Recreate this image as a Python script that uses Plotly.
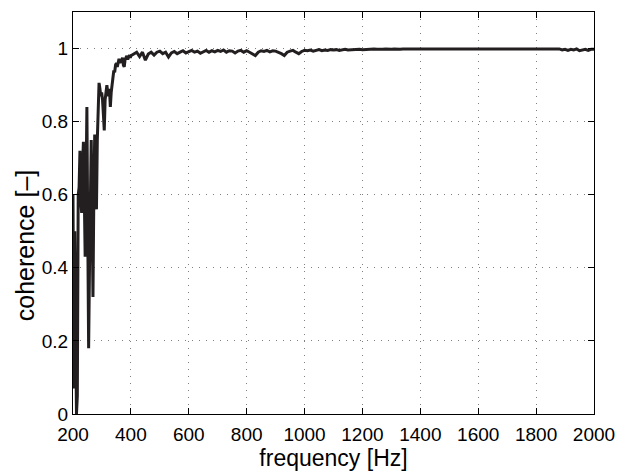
import plotly.graph_objects as go

# Low-frequency region (Hz) and coherence values
freq_low = [200, 203, 206, 209, 212, 215, 218, 221, 224, 227, 230, 233, 236, 239,
            242, 245, 248, 251, 254, 257, 260, 263, 266, 269, 272, 275, 278, 281,
            284, 287, 290, 293, 296, 299, 302, 305, 308, 311, 314, 317, 320, 323,
            326, 329, 332, 335, 338, 341, 344, 347, 350, 353, 356, 359, 362, 365,
            368, 371, 374, 377, 380, 383, 386, 389, 392, 395, 398, 400]
coh_low = [0.60, 0.07, 0.50, 0.30, 0.00, 0.05, 0.60, 0.62, 0.72, 0.58, 0.55, 0.68,
           0.745, 0.60, 0.43, 0.62, 0.84, 0.50, 0.18, 0.40, 0.60, 0.75, 0.55, 0.32,
           0.60, 0.765, 0.70, 0.56, 0.75, 0.88, 0.906, 0.89, 0.87, 0.88, 0.86, 0.82,
           0.776, 0.86, 0.89, 0.90, 0.88, 0.87, 0.89, 0.84, 0.88, 0.91, 0.92, 0.94,
           0.935, 0.955, 0.96, 0.95, 0.965, 0.972, 0.96, 0.968, 0.965, 0.975, 0.955,
           0.95, 0.97, 0.975, 0.98, 0.97, 0.978, 0.982, 0.975, 0.98]

# Higher-frequency region, 10 Hz steps from 410 to 2000 Hz
freq_high = list(range(410, 2001, 10))
coh_high = [
    0.985, 0.99, 0.978, 0.99, 0.968, 0.985, 0.99, 0.982, 0.99, 0.993,
    0.986, 0.99, 0.977, 0.988, 0.992, 0.986, 0.99, 0.994, 0.988, 0.992,
    0.995, 0.99, 0.993, 0.987, 0.992, 0.995, 0.99, 0.994, 0.991, 0.995,
    0.992, 0.996, 0.99, 0.994, 0.993, 0.988, 0.993, 0.995, 0.99, 0.994,
    0.99, 0.985, 0.981, 0.99, 0.994, 0.992, 0.995, 0.991, 0.994, 0.993,
    0.99, 0.986, 0.981, 0.99, 0.993, 0.995, 0.99, 0.986, 0.992, 0.995,
    0.994, 0.996, 0.993, 0.995, 0.997, 0.994, 0.996, 0.995, 0.997, 0.996,
    0.997, 0.995, 0.997, 0.998, 0.996, 0.997, 0.998, 0.997, 0.998, 0.997,
    0.998, 0.997, 0.998, 0.999, 0.998, 0.997, 0.998, 0.999, 0.998, 0.998,
    0.999, 0.998, 0.998, 0.999, 0.998, 0.999, 0.999, 0.998, 0.999, 0.999,
    0.999, 0.998, 0.999, 0.999, 0.999, 0.998, 0.999, 0.999, 0.999, 0.999,
    0.999, 0.999, 0.998, 0.999, 0.999, 0.999, 0.999, 0.998, 0.999, 0.999,
    0.999, 0.999, 0.999, 0.998, 0.999, 0.999, 0.999, 0.999, 0.999, 0.998,
    0.999, 0.999, 0.999, 0.999, 0.998, 0.999, 0.999, 0.999, 0.999, 0.999,
    0.999, 0.998, 0.999, 0.999, 0.999, 0.998, 0.997, 0.999, 0.996, 0.998,
    0.995, 0.998, 0.996, 0.999, 0.994, 0.997, 0.998, 0.995, 0.998, 0.998,
]

x_ticks = [200, 400, 600, 800, 1000, 1200, 1400, 1600, 1800, 2000]
y_ticks = [0, 0.2, 0.4, 0.6, 0.8, 1]
y_tick_labels = ["0", "0.2", "0.4", "0.6", "0.8", "1"]

freq = freq_low + freq_high
coh = coh_low + coh_high

fig = go.Figure()
fig.add_trace(go.Scatter(x=freq, y=coh, mode="lines",
                         line=dict(color="#231f20", width=3),
                         showlegend=False))

font_family = "Liberation Sans, Arial, Helvetica, sans-serif"
grid_kw = dict(showgrid=True, gridcolor="rgba(0,0,0,0.5)", gridwidth=1,
               griddash="1px,6px")
axis_kw = dict(showline=True, linecolor="black", linewidth=1, mirror="ticks",
               ticks="inside", ticklen=6, tickcolor="black", tickwidth=1,
               zeroline=False, tickfont=dict(size=19, color="black", family=font_family))

fig.update_layout(
    width=626, height=474,
    margin=dict(l=73, r=29, t=11, b=52),
    paper_bgcolor="white", plot_bgcolor="white",
    font=dict(family=font_family, color="black"),
    xaxis=dict(range=[200, 2000], tickvals=x_ticks, ticklabelstandoff=3,
               title=dict(text="frequency [Hz]", font=dict(size=23), standoff=2),
               **grid_kw, **axis_kw),
    yaxis=dict(range=[0, 1.1], tickvals=y_ticks, ticktext=y_tick_labels,
               **grid_kw, **axis_kw),
    annotations=[dict(text="coherence [–]", textangle=-90,
                      xref="paper", yref="paper", x=-0.092, y=0.42,
                      xanchor="center", yanchor="middle", showarrow=False,
                      font=dict(size=25, color="black", family=font_family))],
)

fig.write_html("out.html")
